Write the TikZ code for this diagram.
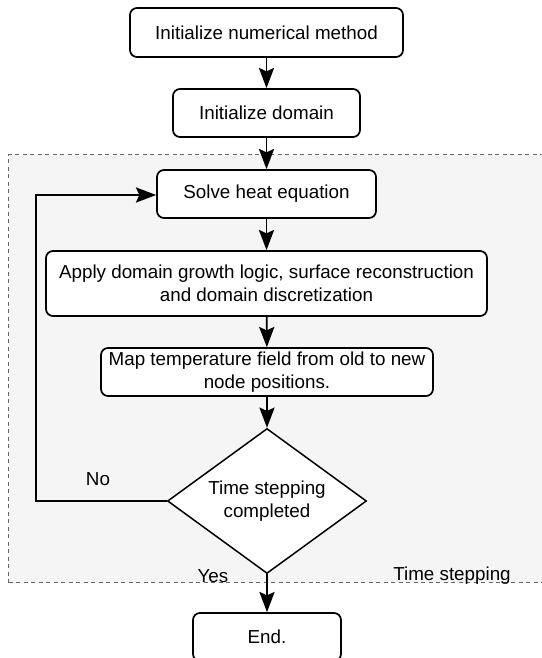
\documentclass[tikz,border=0pt]{standalone}
\usepackage{fontspec}
\setmainfont{Liberation Sans}
\usetikzlibrary{shapes.geometric,arrows.meta}
\definecolor{grpfill}{HTML}{F5F5F5}
\definecolor{grpline}{HTML}{666666}
\begin{document}
\begin{tikzpicture}[x=1pt,y=1pt,
  every node/.style={font=\fontsize{18.8}{22.5}\selectfont},
  proc/.style={draw=black, line width=1.7pt, rounded corners=7pt, fill=white, align=center, inner sep=0pt},
  decis/.style={draw=black, line width=1.5pt, diamond, aspect=1.37, fill=white, align=center, inner sep=0pt},
  flow/.style={line width=1.7pt, -{Stealth[scale=1.9,inset=1.8pt]}},
  lbl/.style={inner sep=0pt}
]
\useasboundingbox (0,0) rectangle (541,-658);
\node[draw=grpline, fill=grpfill, dash pattern=on 4pt off 3.5pt, line width=1.3pt, minimum width=560pt, minimum height=428pt, anchor=north west, inner sep=0pt] (grp) at (8,-154) {};
\node[proc, minimum width=273pt, minimum height=49pt] (n1) at (266.5,-32.5) {Initialize numerical method};
\node[proc, minimum width=187pt, minimum height=48pt] (n2) at (266.5,-113) {Initialize domain};
\node[proc, minimum width=219pt, minimum height=48pt] (n3) at (266.5,-194) {Solve heat equation};
\node[proc, minimum width=441pt, minimum height=65pt] (n4) at (266.5,-283.5) {Apply domain growth logic, surface reconstruction\\and domain discretization};
\node[proc, minimum width=332pt, minimum height=48pt] (n5) at (267,-372) {Map temperature field from old to new\\node positions.};
\node[decis, minimum width=199pt, minimum height=145pt] (d) at (267,-501) {Time stepping\\completed};
\node[proc, minimum width=148pt, minimum height=48pt] (e) at (267,-637) {End.};
\coordinate (lp) at (36,-501);
\coordinate (lq) at (36,-195);
\draw[flow] (n1) -- (n2);
\draw[flow] (n2) -- (n3);
\draw[flow] (n3) -- (n4);
\draw[flow] (n4) -- (n5);
\draw[flow] (n5) -- (d);
\draw[flow] (d) -- (e);
\draw[flow] (d.west) -- (lp) -- (lq) -- (n3.west |- lq);
\node[lbl] (no) at (98,-479) {No};
\node[lbl] (yes) at (213,-576) {Yes};
\node[lbl] (ts) at (452,-576) {Time stepping};
\end{tikzpicture}
\end{document}
